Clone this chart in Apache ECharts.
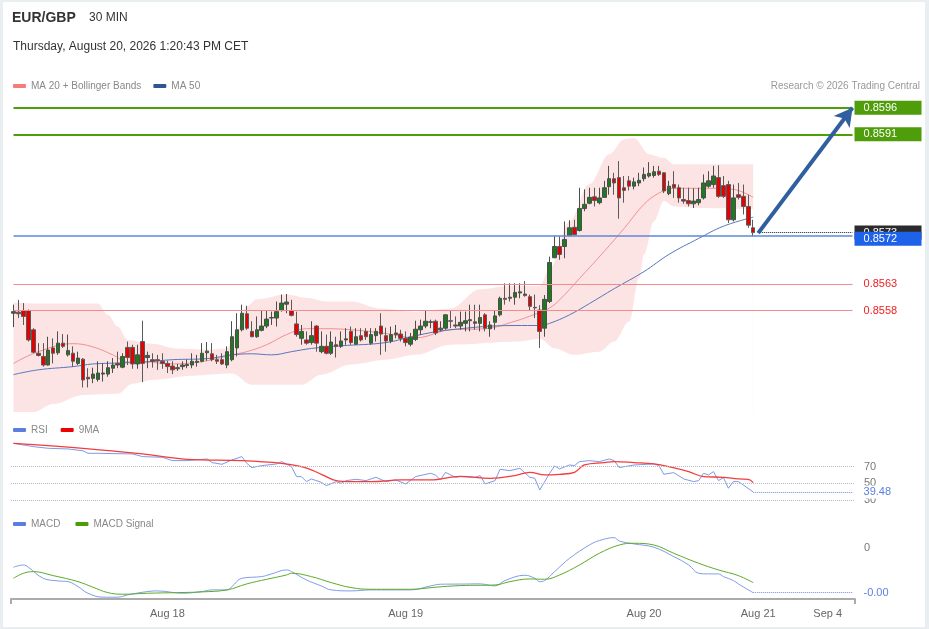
<!DOCTYPE html>
<html><head><meta charset="utf-8">
<script src="https://cdn.jsdelivr.net/npm/echarts@6.0.0/dist/echarts.min.js"></script>
<style>
html,body{margin:0;padding:0;background:#fff;}
#c{position:absolute;left:0;top:0;width:929px;height:629px;}
#frame{position:absolute;left:0;top:0;width:929px;height:629px;box-sizing:border-box;border-style:solid;border-color:#e9eef1;border-width:2px 4px 2px 3px;pointer-events:none;}
</style></head><body>
<div id="c"></div><div id="frame"></div>
<script>
// ---------- data ----------
const categoryCount = 170;
const tickIndex = [31, 79, 127, 150, 164];
const tickLabels = ['Aug 18', 'Aug 19', 'Aug 20', 'Aug 21', 'Sep 4'];

const open = [
0.85575,0.85577,0.85580,0.85580,0.85544,0.85500,0.85494,0.85478,0.85510,0.85501,
0.85519,0.85497,0.85500,0.85481,0.85489,0.85455,0.85453,0.85451,0.85461,0.85461,
0.85472,0.85481,0.85474,0.85511,0.85511,0.85480,0.85522,0.85492,0.85488,0.85488,
0.85485,0.85481,0.85476,0.85471,0.85475,0.85477,0.85478,0.85483,0.85485,0.85501,
0.85499,0.85488,0.85488,0.85478,0.85488,0.85510,0.85544,0.85574,0.85541,0.85531,
0.85543,0.85551,0.85566,0.85566,0.85580,0.85592,0.85580,0.85555,0.85528,0.85525,
0.85520,0.85551,0.85503,0.85513,0.85500,0.85516,0.85513,0.85525,0.85541,0.85517,
0.85533,0.85541,0.85519,0.85533,0.85551,0.85533,0.85523,0.85535,0.85536,0.85528,
0.85517,0.85526,0.85544,0.85551,0.85558,0.85560,0.85544,0.85547,0.85561,0.85553,
0.85551,0.85556,0.85561,0.85559,0.85556,0.85572,0.85546,0.85558,0.85572,0.85603,
0.85603,0.85605,0.85613,0.85611,0.85606,0.85586,0.85581,0.85547,0.85597,0.85679,
0.85700,0.85700,0.85721,0.85736,0.85730,0.85771,0.85781,0.85793,0.85782,0.85792,
0.85812,0.85827,0.85829,0.85810,0.85823,0.85813,0.85819,0.85827,0.85832,0.85833,
0.85841,0.85838,0.85799,0.85816,0.85810,0.85788,0.85786,0.85780,0.85782,0.85791,
0.85813,0.85816,0.85829,0.85814,0.85816,0.85750,0.85797,0.85794,0.85775,0.85735];
const high = [
0.85591,0.85600,0.85594,0.85582,0.85547,0.85519,0.85519,0.85531,0.85528,0.85541,
0.85536,0.85535,0.85513,0.85503,0.85491,0.85472,0.85473,0.85485,0.85481,0.85485,
0.85491,0.85503,0.85500,0.85522,0.85516,0.85516,0.85561,0.85503,0.85500,0.85497,
0.85500,0.85486,0.85485,0.85480,0.85485,0.85488,0.85500,0.85497,0.85519,0.85521,
0.85519,0.85497,0.85500,0.85513,0.85560,0.85575,0.85591,0.85589,0.85560,0.85569,
0.85580,0.85580,0.85578,0.85597,0.85610,0.85611,0.85600,0.85578,0.85553,0.85541,
0.85560,0.85553,0.85541,0.85535,0.85541,0.85531,0.85541,0.85547,0.85550,0.85547,
0.85547,0.85547,0.85547,0.85547,0.85575,0.85548,0.85550,0.85553,0.85544,0.85541,
0.85538,0.85561,0.85563,0.85580,0.85563,0.85563,0.85560,0.85573,0.85580,0.85569,
0.85578,0.85578,0.85591,0.85591,0.85591,0.85575,0.85560,0.85581,0.85606,0.85631,
0.85631,0.85631,0.85631,0.85635,0.85610,0.85610,0.85590,0.85609,0.85681,0.85720,
0.85719,0.85747,0.85749,0.85750,0.85810,0.85807,0.85810,0.85810,0.85810,0.85823,
0.85851,0.85838,0.85860,0.85832,0.85832,0.85829,0.85838,0.85848,0.85858,0.85851,
0.85851,0.85839,0.85823,0.85841,0.85816,0.85810,0.85810,0.85809,0.85810,0.85835,
0.85841,0.85851,0.85852,0.85832,0.85823,0.85816,0.85819,0.85816,0.85797,0.85750];
const low = [
0.85549,0.85566,0.85553,0.85522,0.85500,0.85494,0.85475,0.85477,0.85481,0.85497,
0.85510,0.85494,0.85475,0.85478,0.85436,0.85436,0.85444,0.85447,0.85447,0.85456,
0.85463,0.85472,0.85472,0.85478,0.85471,0.85471,0.85446,0.85472,0.85473,0.85469,
0.85471,0.85463,0.85461,0.85467,0.85469,0.85472,0.85472,0.85475,0.85483,0.85486,
0.85485,0.85480,0.85478,0.85472,0.85485,0.85494,0.85541,0.85544,0.85530,0.85529,
0.85541,0.85547,0.85553,0.85550,0.85578,0.85575,0.85569,0.85531,0.85516,0.85516,
0.85516,0.85503,0.85500,0.85498,0.85497,0.85492,0.85510,0.85516,0.85516,0.85516,
0.85522,0.85525,0.85516,0.85522,0.85497,0.85503,0.85519,0.85528,0.85522,0.85513,
0.85513,0.85523,0.85534,0.85547,0.85547,0.85534,0.85541,0.85544,0.85547,0.85547,
0.85544,0.85541,0.85541,0.85544,0.85541,0.85541,0.85531,0.85544,0.85569,0.85591,
0.85597,0.85591,0.85603,0.85606,0.85581,0.85566,0.85510,0.85531,0.85594,0.85678,
0.85675,0.85678,0.85719,0.85721,0.85728,0.85766,0.85779,0.85775,0.85779,0.85791,
0.85797,0.85797,0.85752,0.85782,0.85805,0.85807,0.85813,0.85822,0.85829,0.85829,
0.85832,0.85800,0.85796,0.85791,0.85782,0.85780,0.85775,0.85772,0.85777,0.85788,
0.85810,0.85810,0.85791,0.85791,0.85744,0.85747,0.85788,0.85760,0.85735,0.85719];
const close = [
0.85578,0.85574,0.85569,0.85525,0.85502,0.85496,0.85478,0.85506,0.85500,0.85519,
0.85513,0.85505,0.85485,0.85491,0.85450,0.85452,0.85461,0.85463,0.85463,0.85473,
0.85478,0.85478,0.85494,0.85492,0.85480,0.85497,0.85481,0.85496,0.85485,0.85486,
0.85481,0.85475,0.85469,0.85473,0.85478,0.85479,0.85485,0.85485,0.85500,0.85504,
0.85488,0.85485,0.85480,0.85503,0.85531,0.85544,0.85575,0.85547,0.85531,0.85544,
0.85551,0.85564,0.85567,0.85578,0.85594,0.85596,0.85571,0.85535,0.85541,0.85519,
0.85533,0.85519,0.85513,0.85500,0.85521,0.85513,0.85523,0.85527,0.85520,0.85531,
0.85525,0.85531,0.85535,0.85541,0.85536,0.85523,0.85535,0.85538,0.85528,0.85520,
0.85530,0.85545,0.85551,0.85560,0.85559,0.85538,0.85547,0.85572,0.85560,0.85551,
0.85558,0.85561,0.85563,0.85556,0.85567,0.85547,0.85553,0.85570,0.85603,0.85601,
0.85605,0.85614,0.85615,0.85608,0.85588,0.85585,0.85541,0.85601,0.85670,0.85700,
0.85685,0.85713,0.85735,0.85722,0.85771,0.85779,0.85792,0.85786,0.85791,0.85810,
0.85827,0.85819,0.85791,0.85805,0.85813,0.85821,0.85824,0.85835,0.85837,0.85840,
0.85835,0.85804,0.85813,0.85810,0.85791,0.85785,0.85780,0.85785,0.85788,0.85819,
0.85823,0.85832,0.85794,0.85794,0.85750,0.85791,0.85792,0.85775,0.85740,0.85726];

// indicator readings [candle index, value]
const upperBand = [[0,0.85595],[5,0.85593],[15,0.85593],[17,0.85593],[19,0.85572],[21,0.85550],[23,0.85525],[28,0.85518],[33,0.85509],[39,0.85507],[43,0.85509],[45,0.85544],[47,0.85588],[49,0.85601],[55,0.85610],[59,0.85604],[63,0.85597],[68,0.85597],[74,0.85584],[81,0.85578],[88,0.85584],[94,0.85620],[100,0.85626],[106,0.85626],[108,0.85659],[112,0.85747],[116,0.85817],[120,0.85873],[123,0.85901],[125,0.85903],[128,0.85873],[131,0.85866],[133,0.85854],[139,0.85854],[149,0.85854]];
const lowerBand = [[0,0.85390],[4,0.85390],[8,0.85405],[14,0.85422],[21,0.85424],[24,0.85443],[28,0.85450],[36,0.85458],[44,0.85462],[48,0.85441],[58,0.85441],[62,0.85460],[68,0.85479],[75,0.85488],[81,0.85497],[88,0.85516],[102,0.85522],[106,0.85527],[109,0.85509],[113,0.85497],[118,0.85503],[121,0.85522],[124,0.85559],[126,0.85640],[127,0.85685],[129,0.85747],[131,0.85785],[133,0.85775],[138,0.85772],[149,0.85770]];
const ma20 = [[0,0.85481],[5,0.85503],[12,0.85518],[16,0.85512],[20,0.85497],[23,0.85484],[27,0.85484],[31,0.85480],[36,0.85482],[40,0.85488],[44,0.85497],[47,0.85503],[51,0.85516],[55,0.85535],[59,0.85546],[63,0.85546],[68,0.85544],[75,0.85537],[81,0.85529],[88,0.85544],[95,0.85546],[101,0.85560],[105,0.85573],[108,0.85585],[110,0.85600],[114,0.85640],[119,0.85691],[123,0.85734],[127,0.85779],[130,0.85800],[133,0.85809],[138,0.85809],[141,0.85809],[145,0.85807],[149,0.85792]];
const ma50 = [[0,0.85460],[5,0.85469],[12,0.85475],[16,0.85480],[22,0.85482],[27,0.85484],[32,0.85488],[39,0.85490],[44,0.85497],[48,0.85499],[52,0.85497],[56,0.85503],[60,0.85509],[66,0.85514],[75,0.85520],[81,0.85533],[88,0.85544],[101,0.85552],[106,0.85552],[108,0.85556],[112,0.85572],[116,0.85593],[121,0.85621],[127,0.85653],[132,0.85685],[138,0.85715],[143,0.85738],[149,0.85755]];
const rsi = [[0,98],[4,94],[7,92],[11,91.2],[14,89],[15,86],[17,86],[24,85.2],[26,82],[30,81.2],[32,77.2],[35,77.2],[39,79.2],[40,74.8],[42,72.8],[44,78],[46,82],[47,74],[48,68.8],[50,71.2],[53,73.2],[54,76],[56,70],[57,58],[58,58],[59,52],[60,55.2],[62,51.2],[63,47.2],[65,52],[66,50],[67,53.2],[69,54.8],[71,53.2],[73,57.2],[75,52],[77,54],[79,49.2],[81,58],[84,62],[85,60],[86,54],[87,63.2],[89,57.2],[90,58],[93,57.2],[94,59.2],[95,49.2],[97,53.2],[98,66.8],[100,65.2],[102,68],[104,57.2],[105,56],[106,42],[108,62],[109,70.8],[110,67.2],[112,72],[113,71.2],[114,76],[116,77.2],[118,76],[120,79.2],[121,77.2],[122,68.8],[125,72],[129,73.2],[130,71.2],[131,60.8],[133,62.8],[135,55.2],[137,52],[138,53.2],[139,62],[140,60],[141,64],[142,53.2],[143,56.8],[144,44],[145,52],[146,52],[147,48],[149,39.48]];
const rsiMa = [[0,98],[14,92],[26,85.2],[35,78.8],[46,77.2],[54,74],[58,70],[60,66],[62,60.8],[65,53.2],[68,52],[72,52],[78,54],[84,54],[90,58.4],[96,56],[101,59.2],[104,63.2],[107,60],[110,60.8],[113,63.2],[115,72],[119,74.8],[121,76],[125,74.8],[129,73.2],[132,70],[136,64],[139,58],[143,57.2],[146,55.2],[148,54.8],[149,50.8]];
const rsiLevels = [70, 50, 30];
const macd = [[0,-0.000217],[2,-0.000192],[3,-0.000217],[6,-0.000340],[9,-0.000369],[11,-0.000377],[13,-0.000432],[15,-0.000506],[18,-0.000550],[21,-0.000550],[23,-0.000525],[26,-0.000495],[29,-0.000480],[34,-0.000506],[38,-0.000487],[40,-0.000469],[43,-0.000469],[44,-0.000432],[46,-0.000340],[50,-0.000321],[52,-0.000291],[55,-0.000247],[56,-0.000266],[59,-0.000358],[62,-0.000425],[64,-0.000469],[68,-0.000480],[72,-0.000469],[76,-0.000469],[80,-0.000469],[84,-0.000425],[86,-0.000406],[90,-0.000404],[94,-0.000402],[97,-0.000425],[99,-0.000365],[103,-0.000306],[105,-0.000340],[106,-0.000377],[107,-0.000365],[109,-0.000266],[112,-0.000118],[116,0.000030],[118,0.000079],[121,0.000112],[122,0.000075],[125,0.000042],[129,0.000005],[133,-0.000099],[136,-0.000192],[138,-0.000284],[140,-0.000291],[142,-0.000291],[143,-0.000321],[145,-0.000365],[146,-0.000402],[149,-0.000500]];
const macdSignal = [[0,-0.000340],[2,-0.000284],[4,-0.000266],[8,-0.000310],[13,-0.000377],[16,-0.000439],[19,-0.000499],[22,-0.000517],[27,-0.000506],[33,-0.000499],[38,-0.000491],[43,-0.000469],[47,-0.000402],[51,-0.000351],[55,-0.000303],[56,-0.000284],[60,-0.000321],[64,-0.000388],[68,-0.000443],[72,-0.000462],[80,-0.000462],[85,-0.000439],[90,-0.000421],[97,-0.000414],[100,-0.000377],[104,-0.000347],[107,-0.000351],[110,-0.000303],[114,-0.000192],[118,-0.000062],[122,0.000030],[125,0.000049],[129,0.000030],[133,-0.000062],[138,-0.000173],[142,-0.000247],[146,-0.000310],[149,-0.000388]];

const resistanceLevels = [0.8596, 0.8591];
const pivotLevel = 0.8572;
const supportLevels = [0.8563, 0.8558];
const arrowFrom = [150, 0.85725];
const arrowTo = [169, 0.8596];
const lastIndex = 149;
const lineEndIndex = 169;

// ---------- chart ----------
const cats = Array.from({length: categoryCount}, (_, i) => 'c' + i);
const candles = open.map((o, i) => [o, close[i], low[i], high[i]]);
const lastClose = close[close.length - 1];
const lastRsi = rsi[rsi.length - 1][1];
const lastMacd = macd[macd.length - 1][1];

const FONT = 'Liberation Sans, Arial, Helvetica, sans-serif';
const labelBox = {position: 'end', distance: 2, fontSize: 11, padding: [2, 6, 1, 9], width: 52, align: 'left'};

function xAxisFor(idx, show) {
  return {
    type: 'category', gridIndex: idx, data: cats, boundaryGap: true, show: show,
    axisLine: {show: show, onZero: false, lineStyle: {color: '#ababab', width: 2}},
    axisTick: {show: show, interval: (i) => i === 0, length: 5, lineStyle: {color: '#ababab', width: 2}},
    axisLabel: {
      show: show, color: '#666', fontSize: 11, margin: 9,
      interval: (i) => tickIndex.indexOf(i) >= 0,
      formatter: (v, i) => { const k = tickIndex.indexOf(i); return k >= 0 ? tickLabels[k] : ''; }
    },
    splitLine: {show: false}
  };
}

// full-width horizontal level line between first and last category
function levelLine(v, lineStyle, label) {
  return [{coord: [0, v]}, {coord: [lineEndIndex, v], lineStyle: lineStyle, label: label}];
}

const levelLines = [
  ...resistanceLevels.map(v => levelLine(v, {color: '#4f9d0a', width: 2, type: 'solid'},
     Object.assign({}, labelBox, {backgroundColor: '#4f9d0a', color: '#fff', formatter: v.toFixed(4)}))),
  levelLine(pivotLevel, {color: '#5e88d8', width: 1.5, type: 'solid'},
     Object.assign({}, labelBox, {backgroundColor: '#1d62e8', color: '#fff', offset: [0, 3], formatter: pivotLevel.toFixed(4)})),
  ...supportLevels.map(v => levelLine(v, {color: '#f28b8b', width: 1, type: 'solid'},
     Object.assign({}, labelBox, {color: '#f02020', formatter: v.toFixed(4)}))),
  [{coord: arrowFrom, symbol: 'none'}, {coord: arrowTo, symbol: 'arrow', symbolSize: [15, 18],
     lineStyle: {color: '#2f5f9e', width: 4, type: 'solid'}, label: {show: false}}]
];

const chart = echarts.init(document.getElementById('c'), null, {renderer: 'canvas'});
chart.setOption({
  animation: false,
  backgroundColor: '#fff',
  textStyle: {fontFamily: FONT},
  title: [
    {text: 'EUR/GBP', left: 12, top: 11, padding: 0, textStyle: {fontSize: 14, fontWeight: 'bold', color: '#333', fontFamily: FONT}},
    {text: '30 MIN', left: 89, top: 12, padding: 0, textStyle: {fontSize: 12, fontWeight: 'normal', color: '#333', fontFamily: FONT}},
    {text: 'Thursday, August 20, 2026 1:20:43 PM CET', left: 13, top: 41, padding: 0, textStyle: {fontSize: 12, fontWeight: 'normal', color: '#333', fontFamily: FONT}},
    {text: 'Research © 2026 Trading Central', right: 9, top: 81, padding: 0, textStyle: {fontSize: 10, fontWeight: 'normal', color: '#999', fontFamily: FONT}}
  ],
  legend: [
    {left: 13, top: 81, padding: 0, itemWidth: 13, itemHeight: 4, itemGap: 12, icon: 'roundRect',
     textStyle: {color: '#888', fontSize: 10},
     data: [{name: 'MA 20 + Bollinger Bands', itemStyle: {color: '#f77b7b'}}, {name: 'MA 50', itemStyle: {color: '#2f5597'}}]},
    {left: 13, top: 425, padding: 0, itemWidth: 13, itemHeight: 4, itemGap: 13, icon: 'roundRect',
     textStyle: {color: '#888', fontSize: 10},
     data: [{name: 'RSI', itemStyle: {color: '#5b7fe0'}}, {name: '9MA', itemStyle: {color: '#f00000'}}]},
    {left: 13, top: 519, padding: 0, itemWidth: 13, itemHeight: 4, itemGap: 15, icon: 'roundRect',
     textStyle: {color: '#888', fontSize: 10},
     data: [{name: 'MACD', itemStyle: {color: '#5b7fe0'}}, {name: 'MACD Signal', itemStyle: {color: '#4a9e0a'}}]}
  ],
  grid: [
    {left: 11, right: 74, top: 97, height: 315},
    {left: 11, right: 74, top: 433.3, height: 83.3},
    {left: 11, right: 74, top: 530.6, height: 68.4}
  ],
  xAxis: [xAxisFor(0, false), xAxisFor(1, false), xAxisFor(2, true)],
  yAxis: [
    {type: 'value', gridIndex: 0, min: 0.8539, max: 0.8598, show: false, splitLine: {show: false}},
    {type: 'value', gridIndex: 1, min: 10, max: 110, show: false, splitLine: {show: false}},
    {type: 'value', gridIndex: 2, min: -0.00057, max: 0.00019, show: false, splitLine: {show: false}}
  ],
  series: [
    {name: 'upper', type: 'line', xAxisIndex: 0, yAxisIndex: 0, data: upperBand, smooth: 0.35, smoothMonotone: 'x',
     symbol: 'none', silent: true, z: 1, lineStyle: {width: 0}, areaStyle: {color: '#fde4e4', opacity: 1, origin: 'start'}},
    {name: 'lower', type: 'line', xAxisIndex: 0, yAxisIndex: 0, data: lowerBand, smooth: 0.35, smoothMonotone: 'x',
     symbol: 'none', silent: true, z: 1, lineStyle: {width: 0}, areaStyle: {color: '#ffffff', opacity: 1, origin: 'start'}},
    {name: 'MA 20 + Bollinger Bands', type: 'line', xAxisIndex: 0, yAxisIndex: 0, data: ma20, smooth: 0.4, symbol: 'none', z: 2,
     color: '#f28c8c', lineStyle: {width: 1, color: '#f39090'},
     markLine: {silent: true, symbol: ['none', 'none'],
       data: [[{coord: [lastIndex + 1, lastClose]}, {coord: [lineEndIndex, lastClose]}]],
       lineStyle: {color: '#222', type: 'dotted', width: 1},
       label: Object.assign({}, labelBox, {backgroundColor: '#2b2b2b', color: '#fff', formatter: lastClose.toFixed(4)})}},
    {name: 'MA 50', type: 'line', xAxisIndex: 0, yAxisIndex: 0, data: ma50, smooth: 0.4, symbol: 'none', z: 2,
     color: '#5677bd', lineStyle: {width: 1, color: '#5677bd'},
     markLine: {silent: true, symbol: ['none', 'none'], data: levelLines}},
    {name: 'EUR/GBP', type: 'candlestick', xAxisIndex: 0, yAxisIndex: 0, data: candles, barWidth: 4, z: 3,
     itemStyle: {color: '#1e7a1e', color0: '#e60000', borderColor: '#4d4d4d', borderColor0: '#5a5a5a', borderWidth: 1}},
    {name: 'RSI', type: 'line', xAxisIndex: 1, yAxisIndex: 1, data: rsi, symbol: 'none', z: 3,
     color: '#5b7fe0', lineStyle: {width: 1, color: '#7d9ae6'},
     markLine: {silent: true, symbol: ['none', 'none'],
       data: [
         ...rsiLevels.map(v => ({yAxis: v, lineStyle: {color: '#b8b8c4', type: 'dotted', width: 1},
            label: {position: 'end', distance: 9, color: '#777', fontSize: 11, formatter: String(v)}})),
         [{coord: [lastIndex, lastRsi]}, {coord: [lineEndIndex, lastRsi],
            lineStyle: {color: '#6f8fe2', type: 'dotted', width: 1},
            label: {position: 'end', distance: 11, color: '#5b7fe0', fontSize: 11, backgroundColor: '#fff', padding: [1, 2, 1, 0],
                    formatter: lastRsi.toFixed(2)}}]
       ]}},
    {name: '9MA', type: 'line', xAxisIndex: 1, yAxisIndex: 1, data: rsiMa, smooth: 0.4, symbol: 'none', z: 3,
     color: '#f00000', lineStyle: {width: 1.3, color: '#f53b3b'}},
    {name: 'MACD', type: 'line', xAxisIndex: 2, yAxisIndex: 2, data: macd, smooth: 0.4, symbol: 'none', z: 3,
     color: '#5b7fe0', lineStyle: {width: 1, color: '#7f9ce8'},
     markLine: {silent: true, symbol: ['none', 'none'],
       data: [
         {yAxis: 0, lineStyle: {color: 'rgba(255,255,255,0)', width: 1},
          label: {position: 'end', distance: 9, color: '#777', fontSize: 11, formatter: '0'}},
         [{coord: [lastIndex, lastMacd]}, {coord: [lineEndIndex, lastMacd],
            lineStyle: {color: '#6f8fe2', type: 'dotted', width: 1},
            label: {position: 'end', distance: 11, color: '#5b7fe0', fontSize: 11, backgroundColor: '#fff', padding: [1, 2, 1, 0],
                    formatter: lastMacd.toFixed(2)}}]
       ]}},
    {name: 'MACD Signal', type: 'line', xAxisIndex: 2, yAxisIndex: 2, data: macdSignal, smooth: 0.4, symbol: 'none', z: 3,
     color: '#4a9e0a', lineStyle: {width: 1, color: '#5cab2a'}}
  ]
});
</script></body></html>
